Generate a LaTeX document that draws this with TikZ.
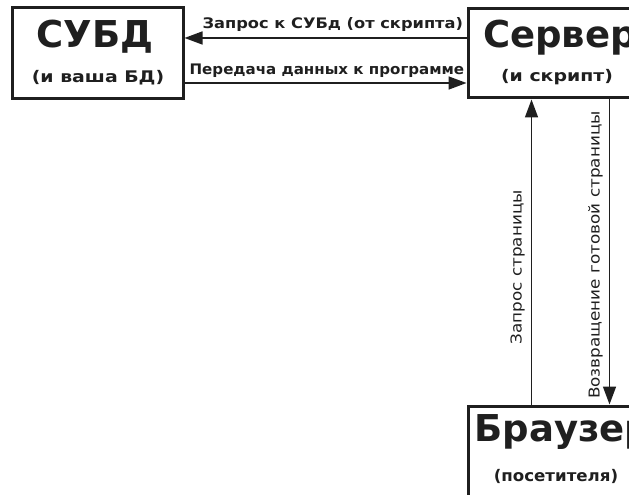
\documentclass[tikz,border=0pt]{standalone}
\usepackage{fontspec}
\setmainfont{DejaVu Sans}
\newfontfamily\wideA[FakeStretch=1.18]{DejaVu Sans}
\newfontfamily\wideB[FakeStretch=1.12]{DejaVu Sans}
\newfontfamily\wideC[FakeStretch=1.04]{DejaVu Sans}
\usetikzlibrary{arrows.meta}
\tikzset{
  box/.style={draw=black!88, line width=3bp, inner sep=0pt, fill=white},
  title/.style={font=\fontsize{37bp}{40bp}\bfseries\selectfont, text=black!88},
  sub/.style={font=\wideA\fontsize{16bp}{18bp}\bfseries\selectfont, text=black!88},
  subn/.style={font=\wideC\fontsize{16bp}{18bp}\bfseries\selectfont, text=black!88},
  lbl/.style={font=\wideB\fontsize{14.5bp}{16bp}\bfseries\selectfont, text=black!88, inner sep=0pt},
  lbln/.style={font=\wideC\fontsize{14.5bp}{16bp}\bfseries\selectfont, text=black!88, inner sep=0pt},
  vlbl/.style={font=\wideB\fontsize{15bp}{17bp}\selectfont, text=black!88, inner sep=0pt, rotate=90},
  arr/.style={draw=black!88, line width=1.6bp, -{Triangle[length=18bp,width=13bp]}}
}
\begin{document}
\begin{tikzpicture}[x=1bp,y=-1bp]
\useasboundingbox (0,0) rectangle (629,495);
\clip (0,0) rectangle (629,495);
\node[box, minimum width=170bp, minimum height=91bp] (db) at (98,53.5) {};
\node[box, minimum width=184bp, minimum height=89bp] (srv) at (560,53.5) {};
\node[box, minimum width=184bp, minimum height=92bp] (br) at (560,452) {};
\node[title] (dbt) at (95,37) {СУБД};
\node[sub] (dbs) at (98,78) {(и ваша БД)};
\node[title] (srvt) at (560,38) {Сервер};
\node[sub] (srvs) at (557,77) {(и скрипт)};
\node[title] (brt) at (563,432) {Браузер};
\node[subn] (brs) at (556,476) {(посетителя)};
\draw[arr] ([yshift=15.5bp]srv.west) -- ([yshift=15.5bp]db.east) node[lbl, pos=0.474, above=6bp] (l1) {Запрос к СУБд (от скрипта)};
\draw[arr] ([yshift=-29.5bp]db.east) -- ([yshift=-29.5bp]srv.west) node[lbln, pos=0.505, above=5bp] (l2) {Передача данных к программе};
\draw[arr] ([xshift=65bp]br.north west) -- ([xshift=65bp]srv.south west) node[vlbl, pos=0.45, above=6bp] (l3) {Запрос страницы};
\draw[arr] ([xshift=143bp]srv.south west) -- ([xshift=143bp]br.north west) node[vlbl, pos=0.51, above=6bp] (l4) {Возвращение готовой страницы};
\end{tikzpicture}
\end{document}
